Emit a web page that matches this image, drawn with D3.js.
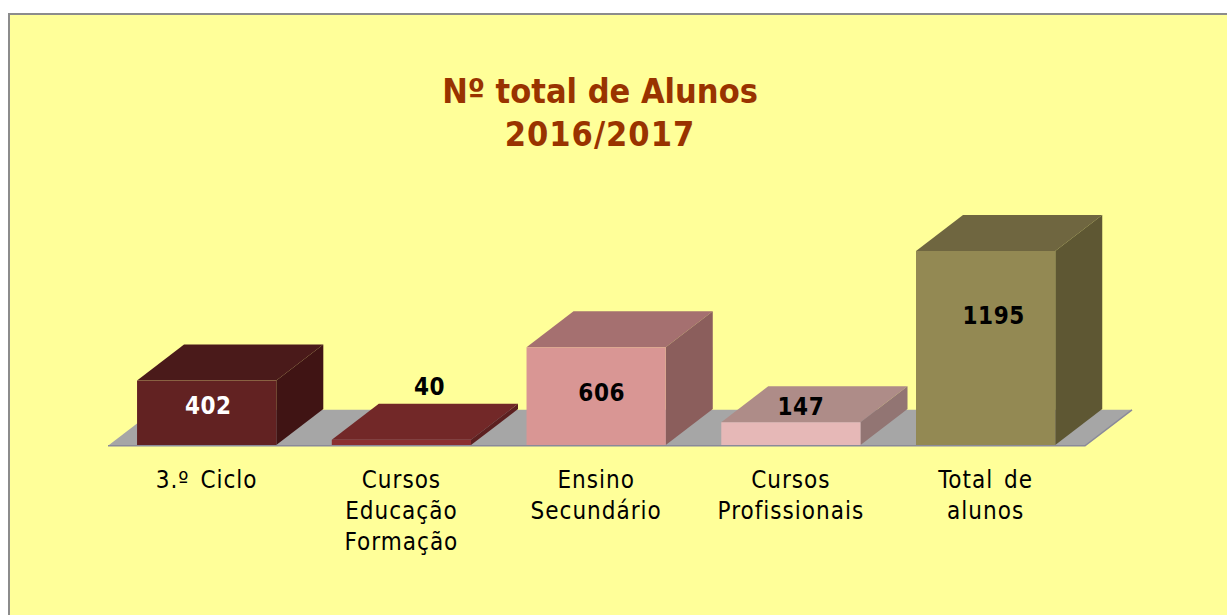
<!DOCTYPE html>
<html>
<head>
<meta charset="utf-8">
<script src="https://cdn.jsdelivr.net/npm/d3@7"></script>
<style>
  html, body { margin: 0; padding: 0; background: #fff; overflow: hidden; }
  text { font-family: "DejaVu Sans Condensed", "DejaVu Sans", sans-serif; }
</style>
</head>
<body>
<svg id="chart" width="1227" height="615"></svg>
<script>
    // Chart data
    const categories = ["3.º Ciclo", "Cursos Educação Formação", "Ensino Secundário", "Cursos Profissionais", "Total de alunos"];
    const categoryLines = [["3.º Ciclo"], ["Cursos", "Educação", "Formação"], ["Ensino", "Secundário"], ["Cursos", "Profissionais"], ["Total de", "alunos"]];
    const values = [402, 40, 606, 147, 1195];
    const titleLines = ["Nº total de Alunos", "2016/2017"];
    const titleSpacing = [0, 1];

    // Face colours per bar
    const frontColors = ["#622222", "#8b3030", "#d99694", "#e6b8b7", "#938953"];
    const topColors = ["#4a1a1a", "#722828", "#a57070", "#ae8c88", "#6f6640"];
    const sideColors = ["#401414", "#5c2020", "#8b5e5c", "#927573", "#5e5733"];
    const valueColors = ["#fff", "#000", "#000", "#000", "#000"];

    // Value label offset from the middle/top of each front face
    const labelDx = [1.5, 28, 5.5, 10, 8];
    const labelDy = [25, -53, 45, -16, 65];

    const depthX = 47;
    const depthY = -36;
    const baseY = 445;
    const floorY = 445.8;

    const svg = d3.select("#chart");

    // Panel
    svg.append("rect")
        .attr("x", 9)
        .attr("y", 14)
        .attr("width", 1240)
        .attr("height", 620)
        .attr("fill", "#ffff99")
        .attr("stroke", "#8c8c8c")
        .attr("stroke-width", 2);

    // Scales
    const x = d3.scaleBand()
        .domain(categories)
        .range([109.3, 1083])
        .paddingInner(0.285)
        .paddingOuter(0.1425);

    const y = d3.scaleLinear()
        .domain([0, 1195])
        .range([446.3, 251]);

    // Floor
    const floorLeft = 108;
    const floorRight = 1085;
    svg.append("path")
        .attr("d", `M${floorLeft},${floorY} L${floorLeft + depthX},${floorY + depthY} L${floorRight + depthX},${floorY + depthY} L${floorRight},${floorY} Z`)
        .attr("fill", "#a6a6a6");
    svg.append("path")
        .attr("d", `M${floorRight + depthX},${floorY + depthY} L${floorRight},${floorY} L${floorLeft},${floorY}`)
        .attr("fill", "none")
        .attr("stroke", "#8a8a9a")
        .attr("stroke-width", 1.5);

    const rows = categories.map((c, i) => ({ c, v: values[i], i }));

    const bars = svg.append("g")
      .selectAll("g")
      .data(rows)
      .join("g");

    // Top face
    bars.append("path")
        .attr("fill", d => topColors[d.i])
        .attr("d", d => {
            const x0 = x(d.c), x1 = x0 + x.bandwidth(), t = y(d.v);
            return `M${x0},${t} L${x0 + depthX},${t + depthY} L${x1 + depthX},${t + depthY} L${x1},${t} Z`;
        });

    // Side face
    bars.append("path")
        .attr("fill", d => sideColors[d.i])
        .attr("d", d => {
            const x1 = x(d.c) + x.bandwidth(), t = y(d.v);
            return `M${x1},${t} L${x1 + depthX},${t + depthY} L${x1 + depthX},${baseY + depthY} L${x1},${baseY} Z`;
        });

    // Front face
    bars.append("rect")
        .attr("x", d => x(d.c))
        .attr("y", d => y(d.v))
        .attr("width", x.bandwidth())
        .attr("height", d => baseY - y(d.v))
        .attr("fill", d => frontColors[d.i]);

    // Value labels
    svg.append("g")
      .selectAll("text")
      .data(rows)
      .join("text")
        .attr("x", d => x(d.c) + x.bandwidth() / 2 + labelDx[d.i])
        .attr("y", d => y(d.v) + labelDy[d.i])
        .attr("dy", "0.35em")
        .attr("text-anchor", "middle")
        .attr("font-size", 24)
        .attr("font-weight", "bold")
        .attr("letter-spacing", 0.5)
        .attr("fill", d => valueColors[d.i])
        .text(d => d.v);

    // Category axis, labels broken over several lines
    const axis = svg.append("g")
        .attr("transform", `translate(0,${baseY})`)
        .call(d3.axisBottom(x).tickSize(0).tickPadding(0));
    axis.select(".domain").remove();
    axis.selectAll(".tick text")
        .attr("font-size", 24)
        .attr("letter-spacing", 1)
        .attr("word-spacing", 3)
        .attr("fill", "#000")
        .attr("y", 0)
        .attr("dy", null)
        .text(null)
      .selectAll("tspan")
      .data(c => categoryLines[categories.indexOf(c)])
      .join("tspan")
        .attr("x", 0)
        .attr("y", (d, i) => 43 + i * 31)
        .text(d => d);
    axis.attr("font-family", null).attr("font-size", null);

    // Title
    svg.append("text")
        .attr("text-anchor", "middle")
        .attr("font-size", 34)
        .attr("font-weight", "bold")
        .attr("fill", "#993300")
      .selectAll("tspan")
      .data(titleLines)
      .join("tspan")
        .attr("x", 600)
        .attr("y", (d, i) => 103 + i * 43)
        .attr("letter-spacing", (d, i) => titleSpacing[i])
        .text(d => d);
</script>
</body>
</html>
